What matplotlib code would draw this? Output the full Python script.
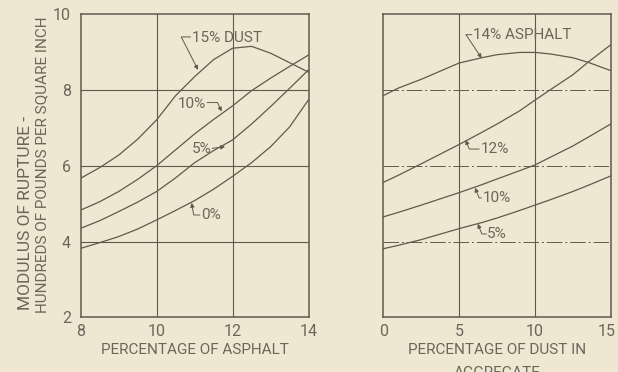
import numpy as np
import matplotlib
matplotlib.use('Agg')
import matplotlib.pyplot as plt
from matplotlib.transforms import ScaledTranslation

plt.rcParams['font.family'] = ['Roboto', 'DejaVu Sans']

# left panel: modulus vs percentage of asphalt, one curve per dust content
asphalt = [8, 8.5, 9, 9.5, 10, 10.5, 11, 11.5, 12, 12.5, 13, 13.5, 14]
dust15 = [5.67, 5.95, 6.28, 6.70, 7.21, 7.85, 8.35, 8.80, 9.10, 9.15, 8.97, 8.72, 8.47]
dust10 = [4.83, 5.05, 5.32, 5.64, 6.00, 6.42, 6.84, 7.22, 7.58, 7.98, 8.31, 8.62, 8.92]
dust5 = [4.35, 4.55, 4.79, 5.04, 5.32, 5.68, 6.08, 6.40, 6.68, 7.10, 7.56, 8.04, 8.53]
dust0 = [3.82, 3.97, 4.13, 4.33, 4.57, 4.82, 5.08, 5.38, 5.72, 6.08, 6.50, 7.02, 7.74]

# right panel: modulus vs percentage of dust, one curve per asphalt content
dust = [0, 1, 2.5, 5, 6.5, 7.5, 9, 10, 11, 12.5, 13.5, 15]
asph14 = [7.85, 8.05, 8.28, 8.71, 8.85, 8.93, 8.99, 8.99, 8.95, 8.85, 8.73, 8.51]
asph12 = [5.56, 5.75, 6.05, 6.56, 6.88, 7.10, 7.45, 7.73, 8.00, 8.40, 8.73, 9.19]
asph10 = [4.65, 4.77, 4.96, 5.29, 5.50, 5.65, 5.87, 6.02, 6.22, 6.52, 6.75, 7.10]
asph5 = [3.81, 3.90, 4.05, 4.34, 4.50, 4.62, 4.82, 4.96, 5.10, 5.32, 5.48, 5.73]

bg = '#efe7d1'
ink = '#5e5a4c'
txt = '#6a665a'

fig = plt.figure(figsize=(6.18, 3.72), dpi=100, facecolor=bg)
ax1 = fig.add_axes([0.1306, 0.147, 0.3686, 0.815], facecolor=bg)
ax2 = fig.add_axes([0.6202, 0.147, 0.368, 0.815], facecolor=bg)

for y in [dust15, dust10, dust5, dust0]:
    ax1.plot(asphalt, y, color=ink, lw=0.9)
for y in [asph14, asph12, asph10, asph5]:
    ax2.plot(dust, y, color=ink, lw=0.9)

ax1.set_xlim(8, 14)
ax1.set_ylim(2, 10)
ax1.set_xticks([8, 10, 12, 14])
ax1.set_yticks([2, 4, 6, 8, 10])
ax2.set_xlim(0, 15)
ax2.set_ylim(2, 10)
ax2.set_xticks([0, 5, 10, 15])
ax2.set_yticks([4, 6, 8])
ax2.set_yticklabels([])

for g in [10, 12]:
    ax1.axvline(g, color=ink, lw=0.8)
for g in [4, 6, 8]:
    ax1.axhline(g, color=ink, lw=0.8)
for g in [5, 10]:
    ax2.axvline(g, color=ink, lw=0.8)
for g in [4, 6, 8]:
    ax2.axhline(g, color=ink, lw=0.7, dashes=(16, 3, 2, 3))

for ax in (ax1, ax2):
    ax.tick_params(length=0, labelsize=11.5, labelcolor=txt)
    ax.tick_params(axis='y', pad=7)
    ax.tick_params(axis='x', pad=5)
    for s in ax.spines.values():
        s.set_color(ink)
        s.set_linewidth(1.1)

# last tick label of the right panel sits a little inside the edge
last = ax2.get_xticklabels()[-1]
last.set_transform(last.get_transform() + ScaledTranslation(-4 / 100, 0, fig.dpi_scale_trans))

ax1.set_xlabel('PERCENTAGE OF ASPHALT', fontsize=11, color=txt, labelpad=3)
ax2.set_xlabel('PERCENTAGE OF DUST IN\nAGGREGATE', fontsize=11, color=txt,
               labelpad=3, linespacing=1.75)
fig.text(0.041, 0.167, 'MODULUS OF RUPTURE -', rotation=90, rotation_mode='anchor',
         ha='left', va='center', fontsize=12.5, color=txt)
fig.text(0.068, 0.159, 'HUNDREDS OF POUNDS PER SQUARE INCH', rotation=90,
         rotation_mode='anchor', ha='left', va='center', fontsize=11, color=txt)


def note(ax, text, xy, xyt, ha, conn, relpos):
    ap = dict(arrowstyle='-|>', color=ink, lw=0.7, shrinkA=0, shrinkB=0,
              mutation_scale=6, connectionstyle=conn, relpos=relpos, patchA=None)
    ax.annotate(text, xy=xy, xytext=xyt, ha=ha, va='center', fontsize=11,
                color=txt, arrowprops=ap)


note(ax1, '15% DUST', (11.09, 8.53), (10.93, 9.38), 'left',
     'angle,angleA=180,angleB=117,rad=0', (-0.02, 0.55))
note(ax1, '10%', (11.71, 7.43), (11.30, 7.63), 'right',
     'angle,angleA=0,angleB=114,rad=0', (1.04, 0.6))
note(ax1, '5%', (11.8, 6.5), (11.44, 6.44), 'right',
     'arc3,rad=0', (1.04, 0.55))
note(ax1, '0%', (10.92, 5.02), (11.16, 4.70), 'left',
     'angle,angleA=180,angleB=100,rad=0', (-0.04, 0.5))

note(ax2, '14% ASPHALT', (6.49, 8.84), (5.9, 9.44), 'left',
     'angle,angleA=180,angleB=124,rad=0', (-0.01, 0.55))
note(ax2, '12%', (5.43, 6.68), (6.4, 6.44), 'left',
     'angle,angleA=180,angleB=112,rad=0', (-0.04, 0.5))
note(ax2, '10%', (6.05, 5.42), (6.55, 5.15), 'left',
     'angle,angleA=180,angleB=112,rad=0', (-0.04, 0.5))
note(ax2, '5%', (6.23, 4.47), (6.86, 4.20), 'left',
     'angle,angleA=180,angleB=112,rad=0', (-0.04, 0.5))

fig.savefig('out.png', dpi=100, facecolor=bg)
